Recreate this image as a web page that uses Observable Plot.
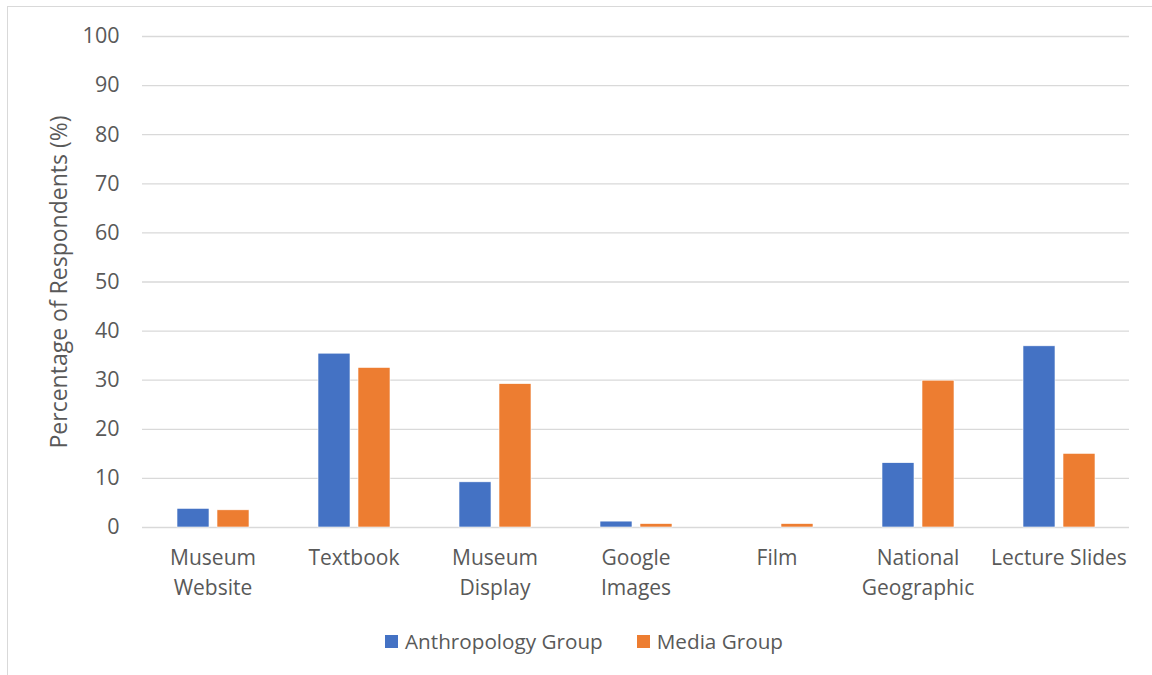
<!DOCTYPE html>
<html>
<head>
<meta charset="utf-8">
<script src="https://cdn.jsdelivr.net/npm/d3@7"></script>
<script src="https://cdn.jsdelivr.net/npm/@observablehq/plot@0.6"></script>
<style>
  html, body { margin: 0; padding: 0; background: white; }
  #wrap { position: relative; width: 1152px; height: 675px; overflow: hidden; font-family: "Open Sans", sans-serif; color: #595959; }
  #frame { position: absolute; left: 7px; top: 6px; width: 1200px; height: 720px; border: 1.5px solid #d9d9d9; pointer-events: none; }
  #legend { position: absolute; left: 385px; top: 627px; display: flex; align-items: center; font-size: 20.7px; color: #595959; }
  .item { display: flex; align-items: center; margin-right: 34px; }
  .sw { width: 13px; height: 13px; margin-right: 7px; }
</style>
</head>
<body>
<div id="wrap">
  <div id="chart"></div>
  <div id="legend"></div>
  <div id="frame"></div>
</div>
<script>
const categories = ["Museum Website", "Textbook", "Museum Display", "Google Images", "Film", "National Geographic", "Lecture Slides"];
const categoryLabels = ["Museum\nWebsite", "Textbook", "Museum\nDisplay", "Google\nImages", "Film", "National\nGeographic", "Lecture Slides"];
const groups = ["Anthropology Group", "Media Group"];
const anthropology = [3.8, 35.4, 9.2, 1.2, 0, 13.1, 36.9];
const media = [3.5, 32.5, 29.2, 0.7, 0.7, 29.9, 15.0];
const yTicks = [0, 10, 20, 30, 40, 50, 60, 70, 80, 90, 100];
const yTitle = "Percentage of Respondents (%)";
const colors = ["#4472C4", "#ED7D31"];

const data = [];
categories.forEach((c, i) => {
  data.push({category: c, group: groups[0], value: anthropology[i]});
  data.push({category: c, group: groups[1], value: media[i]});
});
const labelOf = new Map(categories.map((c, i) => [c, categoryLabels[i]]));

const H = 615;
const chart = Plot.plot({
  width: 1152,
  height: H,
  marginTop: 36,
  marginBottom: H - 527,
  marginLeft: 140,
  marginRight: 22,
  style: {fontFamily: "Open Sans, sans-serif", color: "#595959", background: "white", overflow: "visible"},
  fx: {domain: categories, padding: 0, label: null, axis: null},
  x: {domain: groups, paddingInner: 0.21, paddingOuter: 0.85, axis: null},
  y: {domain: [0, 100], axis: null},
  color: {domain: groups, range: colors},
  marks: [
    Plot.ruleY(yTicks, {stroke: "#d9d9d9", strokeWidth: 1.3}),
    Plot.barY(data, {fx: "category", x: "group", y: "value", fill: "group", stroke: "white", strokeWidth: 0.6}),
    Plot.axisFx({anchor: "bottom", tickSize: 0, tickPadding: 16, fontSize: 21, lineHeight: 1.43, tickFormat: d => labelOf.get(d), label: null, fill: "#595959"}),
    Plot.axisY({ticks: yTicks, tickSize: 0, tickPadding: 23, fontSize: 21.5, fill: "#595959", label: null}),
    Plot.text([yTitle], {fx: () => categories[0], text: d => d, frameAnchor: "left", textAnchor: "middle", rotate: -90, dx: -83, fontSize: 23, fill: "#595959"})
  ]
});
document.getElementById("chart").appendChild(chart);

const legend = document.getElementById("legend");
groups.forEach((g, i) => {
  const item = document.createElement("div");
  item.className = "item";
  const sw = document.createElement("div");
  sw.className = "sw";
  sw.style.background = colors[i];
  const t = document.createElement("span");
  t.textContent = g;
  item.appendChild(sw);
  item.appendChild(t);
  legend.appendChild(item);
});
</script>
</body>
</html>
